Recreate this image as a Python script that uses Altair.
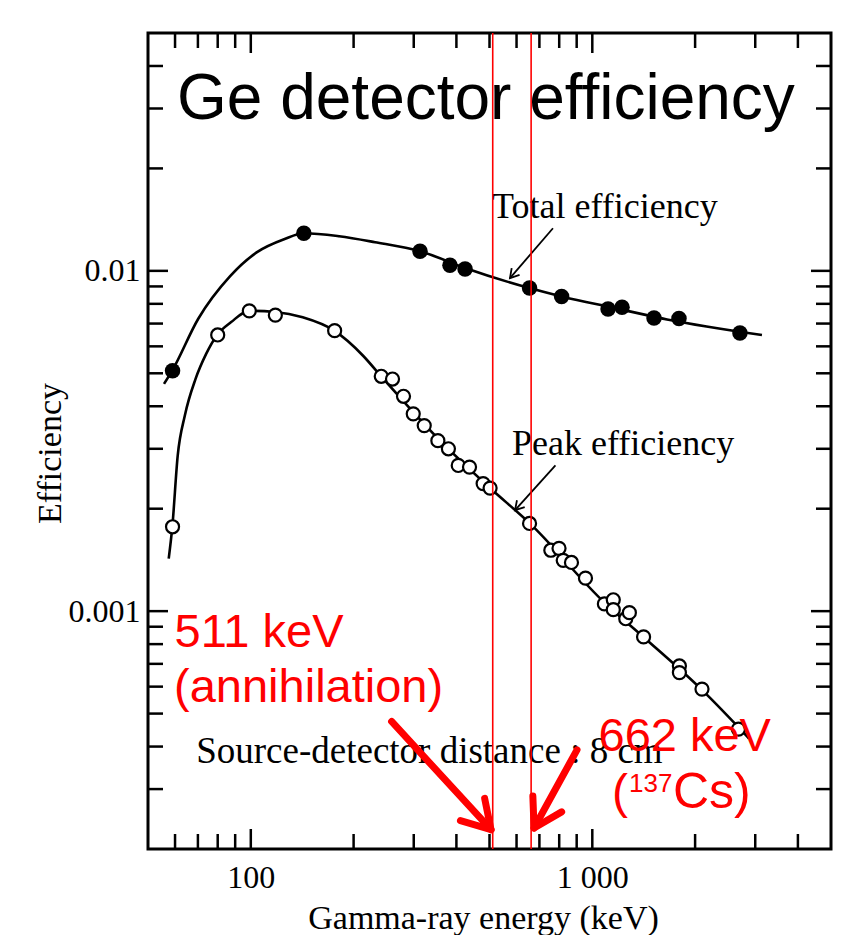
import altair as alt
import pandas as pd

# ---------------- data ----------------
# Total efficiency (filled circles)
total_energy = [59, 143, 313, 383, 424, 655, 813, 1112, 1222, 1516, 1794, 2706]
total_eff = [0.00509, 0.0129, 0.01142, 0.01039, 0.01012, 0.0089, 0.00841,
             0.00772, 0.00782, 0.00727, 0.00724, 0.00657]

# Peak efficiency (open circles)
peak_energy = [59, 80, 99, 118, 176, 241, 260, 280, 299, 322, 353, 379, 405,
               437, 479, 502, 655, 756, 799, 822, 869, 955, 1085, 1152, 1152,
               1253, 1284, 1413, 1799, 1799, 2095, 2679]
peak_eff = [0.00177, 0.00648, 0.00763, 0.00741, 0.00667, 0.0049, 0.00481,
            0.00428, 0.0038, 0.00351, 0.00317, 0.0030, 0.00268, 0.00265,
            0.00237, 0.0023, 0.00181, 0.00151, 0.00153, 0.00141, 0.00139,
            0.00125, 0.00105, 0.00108, 0.00101, 0.00095, 0.00099, 0.00084,
            0.00069, 0.00066, 0.00059, 0.00045]

# Fitted curves (traced)
total_curve_energy = [55.7, 58.8, 70.1, 87.0, 104.3, 125.2, 143.2, 181.4,
                      231.1, 313, 424, 654, 813, 1165, 1655, 3139]
total_curve_eff = [0.004653, 0.00508, 0.00722, 0.00965, 0.01135, 0.01239,
                   0.0129, 0.01264, 0.01214, 0.01142, 0.0102, 0.0089,
                   0.00841, 0.00777, 0.0072, 0.00648]

peak_curve_energy = [57.5, 58.9, 61.1, 64.1, 68.9, 74.0, 79.7, 87.6, 98.9,
                     117.8, 141.9, 175.5, 213.2, 240.7, 355.9, 501.7, 652.9,
                     1085, 1417, 2095, 2875]
peak_curve_eff = [0.001427, 0.001768, 0.002868, 0.003757, 0.004813, 0.0057,
                  0.00648, 0.00707, 0.00763, 0.00757, 0.0073, 0.00667, 0.00563,
                  0.0049, 0.00319, 0.0023, 0.00182, 0.00106, 0.000837,
                  0.000587, 0.000423]

# Axes
x_domain = [50, 5000]
y_domain = [0.0002, 0.05]
x_label_values = [100, 1000]
x_tick_labels = ["100", "1 000"]
y_label_values = [0.001, 0.01]
y_tick_labels = ["0.001", "0.01"]
x_major_ticks = [100, 1000]
x_minor_ticks = [60, 70, 80, 90, 200, 300, 400, 500, 600, 700, 800, 900,
                 2000, 3000, 4000]
y_major_ticks = [0.001, 0.01]
y_minor_ticks = [0.0003, 0.0004, 0.0005, 0.0006, 0.0007, 0.0008, 0.0009,
                 0.002, 0.003, 0.004, 0.005, 0.006, 0.007, 0.008, 0.009,
                 0.02, 0.03, 0.04]

# Marked gamma lines (keV)
gamma_lines = [511, 662]

# Annotations (anchor positions in data units)
title_text = ["Ge detector efficiency"]
title_energy = [60.8]
title_eff = [0.02786]

note_texts = ["Total efficiency", "Peak efficiency",
              "Source-detector distance : 8 cm"]
note_energy = [508.6, 582, 69.2]
note_eff = [0.01427, 0.00288, 0.0003575]

leader_start_energy = [767, 780]
leader_start_eff = [0.01334, 0.00268]
leader_end_energy = [574, 594]
leader_end_eff = [0.00952, 0.00198]

red_texts = ["511 keV", "(annihilation)", "662 keV"]
red_energy = [59.8, 59.6, 1042.6]
red_eff = [0.0007863, 0.000542, 0.000387]

cs_parts = ["(", "137", "Cs)"]
cs_energy = [1142]
cs_eff = [0.0002638]

arrow_tail_energy = [258.4, 902]
arrow_tail_eff = [0.000474, 0.000391]
arrow_tip_energy = [505.2, 675.2]
arrow_tip_eff = [0.0002279, 0.0002306]

# ---------------- styling ----------------
W, H = 683, 816
SERIF = "Liberation Serif"
SANS = "Liberation Sans"
RED = "#ff0000"
MAJOR, MINOR = 20, 15

xs = alt.Scale(type="log", domain=x_domain, nice=False)
ys = alt.Scale(type="log", domain=y_domain, nice=False)

x_label_expr = " : ".join(
    f"datum.value == {v} ? '{t}'" for v, t in zip(x_label_values, x_tick_labels)
) + " : ''"
y_label_expr = " : ".join(
    f"datum.value == {v} ? '{t}'" for v, t in zip(y_label_values, y_tick_labels)
) + " : ''"

x_axis = alt.Axis(
    values=x_label_values, labelExpr=x_label_expr, title="Gamma-ray energy (keV)",
    domain=False, ticks=False, tickSize=0, grid=False,
    labelFont=SERIF, labelFontSize=32, labelColor="black",
    labelBaseline="alphabetic", labelPadding=38,
    titleFont=SERIF, titleFontSize=34, titleFontWeight="normal", titleColor="black",
    titleX=335, titleY=79, titleBaseline="alphabetic", titleAlign="center",
)
y_axis = alt.Axis(
    values=y_label_values, labelExpr=y_label_expr, title="Efficiency",
    domain=False, ticks=False, tickSize=0, grid=False,
    labelFont=SERIF, labelFontSize=32, labelColor="black", labelPadding=8,
    titleFont=SERIF, titleFontSize=34, titleFontWeight="normal", titleColor="black",
    titleX=-98, titleY=420, titleBaseline="middle", titleAlign="center",
)


def X(f="E"):
    return alt.X(f"{f}:Q", scale=xs, axis=x_axis)


def Y(f="eff"):
    return alt.Y(f"{f}:Q", scale=ys, axis=y_axis)


layers = []

# curves
total_curve_df = pd.DataFrame({"E": total_curve_energy, "eff": total_curve_eff})
peak_curve_df = pd.DataFrame({"E": peak_curve_energy, "eff": peak_curve_eff})
layers.append(
    alt.Chart(total_curve_df).mark_line(interpolate="monotone", color="black", strokeWidth=2.6)
    .encode(x=X(), y=Y())
)
layers.append(
    alt.Chart(peak_curve_df).mark_line(interpolate="monotone", color="black", strokeWidth=2.6)
    .encode(x=X(), y=Y())
)

# points
layers.append(
    alt.Chart(pd.DataFrame({"E": total_energy, "eff": total_eff}))
    .mark_circle(color="black", size=240, opacity=1)
    .encode(x=X(), y=Y())
)
layers.append(
    alt.Chart(pd.DataFrame({"E": peak_energy, "eff": peak_eff}))
    .mark_circle(fill="white", stroke="black", strokeWidth=2.2, size=170, opacity=1)
    .encode(x=X(), y=Y())
)


# inward ticks on all four sides
def yticks(vals, length):
    d = pd.DataFrame({"v": vals})
    left = alt.Chart(d).mark_rule(color="black", strokeWidth=2.5).encode(
        y=Y("v"), x=alt.value(0), x2=alt.value(length))
    right = alt.Chart(d).mark_rule(color="black", strokeWidth=2.5).encode(
        y=Y("v"), x=alt.value(W - length), x2=alt.value(W))
    return [left, right]


def xticks(vals, length):
    d = pd.DataFrame({"v": vals})
    bottom = alt.Chart(d).mark_rule(color="black", strokeWidth=2.5).encode(
        x=X("v"), y=alt.value(H - length), y2=alt.value(H))
    top = alt.Chart(d).mark_rule(color="black", strokeWidth=2.5).encode(
        x=X("v"), y=alt.value(0), y2=alt.value(length))
    return [bottom, top]


layers += yticks(y_major_ticks, MAJOR) + yticks(y_minor_ticks, MINOR)
layers += xticks(x_major_ticks, MAJOR) + xticks(x_minor_ticks, MINOR)

# black annotations
layers.append(
    alt.Chart(pd.DataFrame({"E": note_energy[:2], "eff": note_eff[:2], "t": note_texts[:2]}))
    .mark_text(align="left", baseline="alphabetic", font=SERIF, fontSize=36, color="black")
    .encode(x=X(), y=Y(), text="t:N")
)
layers.append(
    alt.Chart(pd.DataFrame({"E": note_energy[2:], "eff": note_eff[2:], "t": note_texts[2:]}))
    .mark_text(align="left", baseline="alphabetic", font=SERIF, fontSize=37, color="black")
    .encode(x=X(), y=Y(), text="t:N")
)
leader_df = pd.DataFrame({"E": leader_start_energy, "eff": leader_start_eff,
                          "E2": leader_end_energy, "eff2": leader_end_eff})
layers.append(
    alt.Chart(leader_df).mark_rule(color="black", strokeWidth=1.8)
    .encode(x=X(), y=Y(), x2=alt.X2("E2:Q"), y2=alt.Y2("eff2:Q"))
)
CHEVRON = "M -0.6 1 L 0 0 L 0.6 1"
for i, ang in enumerate([220.7, 221.9]):
    layers.append(
        alt.Chart(pd.DataFrame({"E": [leader_end_energy[i]], "eff": [leader_end_eff[i]]}))
        .mark_point(shape=CHEVRON, filled=False, stroke="black", strokeWidth=1.8,
                    size=300, angle=ang, opacity=1)
        .encode(x=X(), y=Y())
    )

layers.append(
    alt.Chart(pd.DataFrame({"E": title_energy, "eff": title_eff, "t": title_text}))
    .mark_text(align="left", baseline="alphabetic", font=SANS, fontSize=64, color="black")
    .encode(x=X(), y=Y(), text="t:N")
)

# red overlay
layers.append(
    alt.Chart(pd.DataFrame({"E": gamma_lines}))
    .mark_rule(color=RED, strokeWidth=1.6)
    .encode(x=X())
)
layers.append(
    alt.Chart(pd.DataFrame({"E": red_energy, "eff": red_eff, "t": red_texts}))
    .mark_text(align="left", baseline="alphabetic", font=SANS, fontSize=47, color=RED)
    .encode(x=X(), y=Y(), text="t:N")
)
cs_style = [(0, 0, 48), (17, -16, 26), (61, 0, 50)]
for part, (dx, dy, fs) in zip(cs_parts, cs_style):
    layers.append(
        alt.Chart(pd.DataFrame({"E": cs_energy, "eff": cs_eff, "t": [part]}))
        .mark_text(align="left", baseline="alphabetic", font=SANS, fontSize=fs,
                   color=RED, dx=dx, dy=dy)
        .encode(x=X(), y=Y(), text="t:N")
    )
arrow_df = pd.DataFrame({"E": arrow_tail_energy, "eff": arrow_tail_eff,
                         "E2": arrow_tip_energy, "eff2": arrow_tip_eff})
layers.append(
    alt.Chart(arrow_df).mark_rule(color=RED, strokeWidth=7, strokeCap="round")
    .encode(x=X(), y=Y(), x2=alt.X2("E2:Q"), y2=alt.Y2("eff2:Q"))
)
for i, ang in enumerate([137.5, 208.8]):
    layers.append(
        alt.Chart(pd.DataFrame({"E": [arrow_tip_energy[i]], "eff": [arrow_tip_eff[i]]}))
        .mark_point(shape=CHEVRON, filled=False, stroke=RED, strokeWidth=7,
                    strokeCap="round", strokeJoin="round",
                    size=3000, angle=ang, opacity=1)
        .encode(x=X(), y=Y())
    )

chart = (
    alt.layer(*layers)
    .properties(
        width=W, height=H,
        autosize=alt.AutoSizeParams(type="none"),
        padding={"left": 140, "top": 25, "right": 3, "bottom": 86},
        background="white",
    )
    .configure_view(stroke="black", strokeWidth=3)
)

chart.save("out.html", embed_options={"renderer": "svg", "actions": False})
